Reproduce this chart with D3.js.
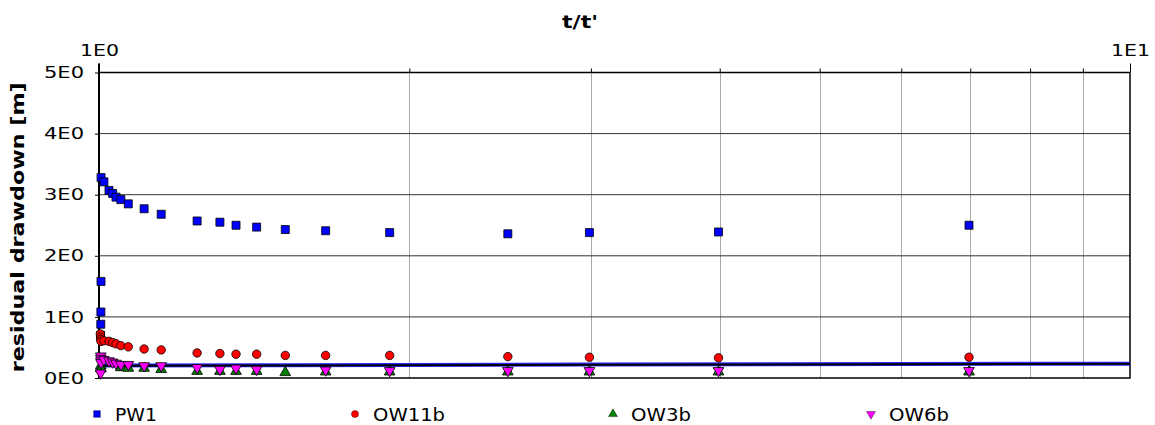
<!DOCTYPE html>
<html>
<head>
    <meta charset="utf-8">
    <title>Residual drawdown</title>
    <style>
        body { margin: 0; background: #fff; }
        text { font-family: "DejaVu Sans", Verdana, sans-serif; fill: #000; }
    </style>
</head>
<body>
    <script src="https://cdnjs.cloudflare.com/ajax/libs/d3/7.8.5/d3.min.js"></script>
    <script>
        // t/t' values and residual drawdown [m] per well
        var pw1T = [1.0035, 1.004, 1.0042, 1.0045, 1.0046, 1.011, 1.0226, 1.031, 1.0387, 1.050, 1.0676, 1.106, 1.149, 1.245, 1.310, 1.358, 1.422, 1.516, 1.659, 1.914, 2.492, 2.990, 3.989, 6.98];
        var pw1S = [0.70, 0.88, 1.08, 1.58, 3.28, 3.21, 3.07, 3.02, 2.96, 2.92, 2.85, 2.77, 2.68, 2.57, 2.55, 2.50, 2.47, 2.43, 2.41, 2.38, 2.36, 2.38, 2.39, 2.50];

        var ow11bT = [1.003, 1.0035, 1.004, 1.0045, 1.011, 1.0226, 1.031, 1.0387, 1.050, 1.0676, 1.106, 1.149, 1.245, 1.310, 1.358, 1.422, 1.516, 1.659, 1.914, 2.492, 2.990, 3.989, 6.98];
        var ow11bS = [0.72, 0.67, 0.63, 0.60, 0.61, 0.60, 0.58, 0.56, 0.53, 0.51, 0.475, 0.46, 0.41, 0.40, 0.39, 0.39, 0.37, 0.37, 0.37, 0.35, 0.34, 0.33, 0.34];

        var ow3bT = [1.004, 1.0045, 1.050, 1.0676, 1.106, 1.149, 1.245, 1.310, 1.358, 1.422, 1.516, 1.659, 1.914, 2.492, 2.990, 3.989, 6.98];
        var ow3bS = [0.20, 0.15, 0.17, 0.16, 0.16, 0.14, 0.11, 0.11, 0.11, 0.11, 0.09, 0.10, 0.10, 0.10, 0.10, 0.10, 0.10];

        var ow6bT = [1.0035, 1.004, 1.0042, 1.0044, 1.0045, 1.011, 1.0226, 1.031, 1.0387, 1.050, 1.0676, 1.106, 1.149, 1.245, 1.310, 1.358, 1.422, 1.659, 1.914, 2.492, 2.990, 3.989, 6.98];
        var ow6bS = [0.08, 0.36, 0.32, 0.28, 0.25, 0.30, 0.28, 0.26, 0.24, 0.22, 0.22, 0.20, 0.20, 0.17, 0.14, 0.16, 0.14, 0.13, 0.12, 0.12, 0.12, 0.12, 0.12];

        // fitted curves
        var fitT = [1, 1.5, 3, 6, 10];
        var fitBlack = [0.2, 0.205, 0.215, 0.225, 0.235];
        var fitBlue = [0.205, 0.21, 0.22, 0.23, 0.235];

        var xMajor = [1, 10];
        var xMajorLabels = ["1E0", "1E1"];
        var xMinor = [2, 3, 4, 5, 6, 7, 8, 9];
        var yTicks = [0, 1, 2, 3, 4, 5];
        var yTickLabels = ["0E0", "1E0", "2E0", "3E0", "4E0", "5E0"];

        var seriesNames = ["PW1", "OW11b", "OW3b", "OW6b"];

        var margin = {top: 72.5, right: 25, bottom: 47, left: 99},
            width = 1155 - margin.left - margin.right,
            height = 425 - margin.top - margin.bottom;

        var x = d3.scaleLog().domain([1, 10]).range([0, width]);
        var y = d3.scaleLinear().domain([0, 5]).range([height, 0]);

        var svg = d3.select("body").append("svg")
            .attr("width", 1155)
            .attr("height", 425)
          .append("g")
            .attr("transform", "translate(" + margin.left + "," + margin.top + ")");

        // grid
        svg.append("g").selectAll("line")
            .data(xMinor)
            .enter().append("line")
            .attr("x1", function(d) { return Math.round(x(d)) + 0.5; })
            .attr("x2", function(d) { return Math.round(x(d)) + 0.5; })
            .attr("y1", 0).attr("y2", height)
            .attr("stroke", "#a8a8a8");

        svg.append("g").selectAll("line")
            .data(yTicks.slice(1, 5))
            .enter().append("line")
            .attr("x1", 0).attr("x2", width)
            .attr("y1", function(d) { return y(d); })
            .attr("y2", function(d) { return y(d); })
            .attr("stroke", "#333");

        // top axis
        var xAxisMajor = d3.axisTop(x).tickValues(xMajor).tickSize(9).tickSizeOuter(0).tickPadding(8)
            .tickFormat(function(d, i) { return xMajorLabels[i]; });
        var xAxisMinor = d3.axisTop(x).tickValues(xMinor).tickSize(4).tickSizeOuter(0).tickFormat("");

        var gx = svg.append("g").call(xAxisMajor);
        svg.append("g").call(xAxisMinor).select(".domain").remove();
        gx.select(".domain").remove();
        gx.selectAll("text")
            .style("font-size", "16px")
            .attr("textLength", 39).attr("lengthAdjust", "spacingAndGlyphs");

        var yAxis = d3.axisLeft(y).tickValues(yTicks).tickSize(4).tickSizeOuter(0).tickPadding(11)
            .tickFormat(function(d, i) { return yTickLabels[i]; });
        var gy = svg.append("g").call(yAxis);
        gy.select(".domain").remove();
        gy.selectAll("text")
            .style("font-size", "16px")
            .attr("textLength", 40).attr("lengthAdjust", "spacingAndGlyphs");
        svg.selectAll(".tick line").attr("stroke", "#000");

        // frame
        svg.append("rect")
            .attr("width", width).attr("height", height)
            .attr("fill", "none").attr("stroke", "#000").attr("stroke-width", 1.5);
        svg.append("line")
            .attr("x1", 0).attr("x2", 0).attr("y1", -9).attr("y2", height)
            .attr("stroke", "#000").attr("stroke-width", 2);

        // titles
        svg.append("text")
            .attr("x", 481).attr("y", -45)
            .attr("text-anchor", "middle")
            .style("font-size", "17px").style("font-weight", "bold")
            .attr("textLength", 36).attr("lengthAdjust", "spacingAndGlyphs")
            .text("t/t'");

        svg.append("text")
            .attr("transform", "translate(-75," + (y(2.5) + 2) + ") rotate(-90)")
            .attr("text-anchor", "middle")
            .style("font-size", "17px").style("font-weight", "bold")
            .attr("textLength", 290).attr("lengthAdjust", "spacingAndGlyphs")
            .text("residual drawdown [m]");

        // curves
        var line = d3.line()
            .x(function(d) { return x(d[0]); })
            .y(function(d) { return y(d[1]); });

        svg.append("path")
            .datum(d3.zip(fitT, fitBlue))
            .attr("d", line)
            .attr("fill", "none").attr("stroke", "#2a2aff").attr("stroke-width", 4);
        svg.append("path")
            .datum(d3.zip(fitT, fitBlack))
            .attr("d", line)
            .attr("fill", "none").attr("stroke", "#000").attr("stroke-width", 2);

        // points
        var series = [
            {t: pw1T, s: pw1S, symbol: d3.symbolSquare, size: 64, color: "#0000ff", rot: 0},
            {t: ow11bT, s: ow11bS, symbol: d3.symbolCircle, size: 56, color: "#ff0000", rot: 0},
            {t: ow3bT, s: ow3bS, symbol: d3.symbolTriangle, size: 50, color: "#008000", rot: 0},
            {t: ow6bT, s: ow6bS, symbol: d3.symbolTriangle, size: 50, color: "#ff00ff", rot: 180}
        ];

        series.forEach(function(sr) {
            svg.append("g").selectAll("path")
                .data(d3.zip(sr.t, sr.s))
                .enter().append("path")
                .attr("d", d3.symbol().type(sr.symbol).size(sr.size))
                .attr("transform", function(d) {
                    return "translate(" + x(d[0]) + "," + y(d[1]) + ") rotate(" + sr.rot + ")";
                })
                .attr("fill", sr.color)
                .attr("stroke", "#000").attr("stroke-width", 0.8);
        });

        // legend
        var legendX = [97, 355, 613, 871];
        var legendW = [42, 72, 60, 60];
        var legend = svg.append("g")
            .attr("transform", "translate(" + (-margin.left) + "," + (-margin.top) + ")")
            .selectAll("g")
            .data(series)
            .enter().append("g")
            .attr("transform", function(d, i) { return "translate(" + legendX[i] + ",414)"; });

        legend.append("path")
            .attr("d", function(d) { return d3.symbol().type(d.symbol).size(d.size * 0.7)(); })
            .attr("transform", function(d) { return "rotate(" + d.rot + ")"; })
            .attr("fill", function(d) { return d.color; })
            .attr("stroke", "#000").attr("stroke-width", 0.4);

        legend.append("text")
            .attr("x", 18).attr("y", 6.5)
            .style("font-size", "17px")
            .attr("textLength", function(d, i) { return legendW[i]; })
            .attr("lengthAdjust", "spacingAndGlyphs")
            .text(function(d, i) { return seriesNames[i]; });
    </script>
</body>
</html>
